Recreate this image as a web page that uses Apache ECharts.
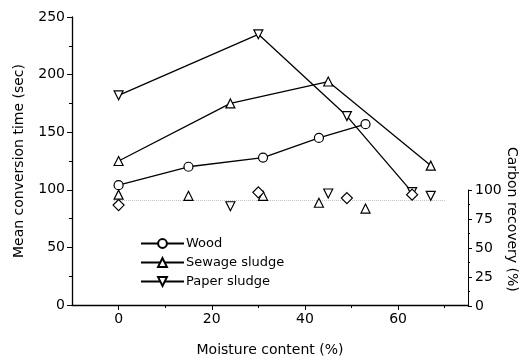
<!DOCTYPE html>
<html>
<head>
<meta charset="utf-8">
<script src="https://cdn.jsdelivr.net/npm/echarts@6/dist/echarts.min.js"></script>
<style>
  html, body { margin: 0; padding: 0; background: #fff; }
  #chart { width: 520px; height: 362px; }
</style>
</head>
<body>
<div id="chart"></div>
<script>
// mean conversion time (sec) vs moisture content (%)
var woodTime = [[0, 104], [15, 120], [31, 128], [43, 145], [53, 157]];
var sewageTime = [[0, 125], [24, 175], [45, 194], [67, 121]];
var paperTime = [[0, 182], [30, 235], [49, 164], [63, 98]];

// carbon recovery (%) markers, as drawn
var recoveryUp = [[0, 96], [15, 95], [31, 95], [43, 89], [53, 84]];
var recoveryDown = [[24, 86], [45, 97], [67, 95]];
var recoveryDiamond = [[0, 87], [30, 98], [49, 93], [63, 96]];
var recoveryDotted = [[-1, 91], [70, 91]];

var xMajor = [0, 20, 40, 60];
var xMinor = [10, 30, 50, 70];

var font = 'DejaVu Sans, sans-serif';

var chart = echarts.init(document.getElementById('chart'));

function timeSeries(name, data, symbol, rotate) {
    return {
        name: name,
        type: 'line',
        xAxisIndex: 0,
        yAxisIndex: 0,
        data: data,
        symbol: symbol,
        symbolRotate: rotate || 0,
        symbolSize: 9,
        showAllSymbol: true,
        lineStyle: { color: '#000', width: 1.3 },
        itemStyle: { color: '#fff', borderColor: '#000', borderWidth: 1.2, opacity: 1 },
        animation: false
    };
}

function recoverySeries(data, symbol, rotate, size) {
    return {
        type: 'scatter',
        xAxisIndex: 1,
        yAxisIndex: 1,
        data: data,
        symbol: symbol,
        symbolRotate: rotate || 0,
        symbolSize: size,
        itemStyle: { color: '#fff', borderColor: '#000', borderWidth: 1.2, opacity: 1 },
        z: 3,
        animation: false
    };
}

var option = {
    backgroundColor: '#fff',
    animation: false,
    textStyle: { fontFamily: font },
    grid: [
        { left: 72, right: 52, top: 17, bottom: 56 },
        { left: 72, right: 52, top: 190, bottom: 56 }
    ],
    legend: {
        orient: 'vertical',
        left: 135,
        top: 232,
        itemWidth: 43,
        itemHeight: 11,
        itemGap: 6,
        data: ['Wood', 'Sewage sludge', 'Paper sludge'],
        textStyle: { color: '#000', fontSize: 13, fontFamily: font, padding: [0, 0, 0, -3] }
    },
    xAxis: [
        {
            gridIndex: 0, type: 'value', min: -10, max: 75,
            name: 'Moisture content (%)', nameLocation: 'middle', nameGap: 38,
            nameTextStyle: { color: '#000', fontSize: 14, fontFamily: font },
            splitLine: { show: false },
            axisLine: { onZero: false, lineStyle: { color: '#000', width: 1.3 } },
            axisTick: { customValues: xMajor, length: 5, lineStyle: { color: '#000' } },
            axisLabel: { customValues: xMajor, color: '#000', fontSize: 14, margin: 7 }
        },
        {
            gridIndex: 1, type: 'value', min: -10, max: 75, show: false
        },
        {
            gridIndex: 0, type: 'value', min: -10, max: 75, position: 'bottom',
            splitLine: { show: false },
            axisLine: { show: false, onZero: false },
            axisTick: { customValues: xMinor, length: 3, lineStyle: { color: '#000' } },
            axisLabel: { show: false }
        }
    ],
    yAxis: [
        {
            gridIndex: 0, type: 'value', min: 0, max: 250, interval: 50,
            name: 'Mean conversion time (sec)', nameLocation: 'middle', nameGap: 46,
            nameTextStyle: { color: '#000', fontSize: 14, fontFamily: font },
            splitLine: { show: false },
            axisLine: { show: true, onZero: false, lineStyle: { color: '#000', width: 1.3 } },
            axisTick: { show: true, length: 5, lineStyle: { color: '#000' } },
            minorTick: { show: true, splitNumber: 2, length: 3, lineStyle: { color: '#000' } },
            axisLabel: { color: '#000', fontSize: 14, margin: 7 }
        },
        {
            gridIndex: 1, type: 'value', min: 0, max: 100, interval: 25, position: 'right',
            splitLine: { show: false },
            axisLine: { show: true, onZero: false, lineStyle: { color: '#000', width: 1 } },
            axisTick: { show: true, length: 4, lineStyle: { color: '#000' } },
            minorTick: { show: true, splitNumber: 2, length: 2, lineStyle: { color: '#000' } },
            axisLabel: { color: '#000', fontSize: 14, margin: 7 }
        }
    ],
    graphic: [
        {
            type: 'text',
            left: 505,
            top: 147,
            rotation: -Math.PI / 2,
            style: { text: 'Carbon recovery (%)', fill: '#000', font: '14px ' + font }
        }
    ],
    series: [
        timeSeries('Wood', woodTime, 'circle'),
        timeSeries('Sewage sludge', sewageTime, 'triangle'),
        timeSeries('Paper sludge', paperTime, 'triangle', 180),
        {
            type: 'line',
            xAxisIndex: 1,
            yAxisIndex: 1,
            data: recoveryDotted,
            symbol: 'none',
            lineStyle: { color: '#bbb', width: 1, type: 'dotted' },
            silent: true,
            z: 1
        },
        recoverySeries(recoveryUp, 'triangle', 0, 9),
        recoverySeries(recoveryDown, 'triangle', 180, 9),
        recoverySeries(recoveryDiamond, 'diamond', 0, 11)
    ]
};

chart.setOption(option);
</script>
</body>
</html>
